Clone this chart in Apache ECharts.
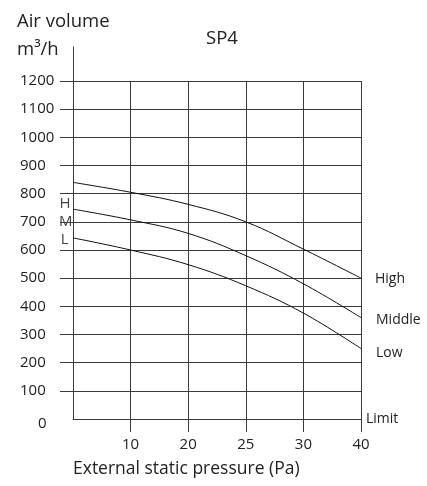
<!DOCTYPE html>
<html>
<head>
<meta charset="utf-8">
<script src="https://cdn.jsdelivr.net/npm/echarts@6/dist/echarts.min.js"></script>
<style>
  html, body { margin: 0; padding: 0; background: #fff; }
  #chart { width: 427px; height: 486px; }
</style>
</head>
<body>
<div id="chart"></div>
<script>
// pressure steps (Pa) - first one is the origin, no label drawn
var pressures = ['0', '10', '20', '25', '30', '40'];
var yTicks = [100, 200, 300, 400, 500, 600, 700, 800, 900, 1000, 1100, 1200];

// air volume m3/h
var highVals = [840, 805, 762, 700, 603, 500];
var middleVals = [745, 707, 659, 580, 480, 360];
var lowVals = [643, 600, 548, 473, 376, 250];

var font = '"Open Sans", "Noto Sans", sans-serif';
var ink = '#222';
var gridColor = '#3a3a3a';

function curve(name, short, vals, startOffset, endOffset) {
    var data = vals.map(function (v, i) {
        if (i === 0) {
            return {
                value: v,
                label: {
                    show: true, position: 'left', distance: 4,
                    formatter: short, offset: startOffset,
                    color: '#444', fontSize: 15, fontFamily: font
                }
            };
        }
        return v;
    });
    return {
        name: name,
        type: 'line',
        smooth: 0.4,
        symbol: 'circle',
        symbolSize: 1,
        showSymbol: true,
        itemStyle: { color: 'rgba(0,0,0,0)' },
        silent: true,
        lineStyle: { color: '#111', width: 1 },
        data: data,
        endLabel: {
            show: true,
            formatter: name,
            offset: endOffset,
            color: ink, fontSize: 14, fontFamily: font
        }
    };
}

var chart = echarts.init(document.getElementById('chart'), null, { renderer: 'canvas' });

var option = {
    backgroundColor: '#fff',
    animation: false,
    title: [
        {
            text: 'Air volume\nm³/h', left: 12, top: 3,
            textStyle: { fontFamily: font, fontWeight: 'normal', fontSize: 18.5, color: ink, lineHeight: 28 }
        },
        {
            text: 'SP4', left: 201, top: 24,
            textStyle: { fontFamily: font, fontWeight: 'normal', fontSize: 18.5, color: ink }
        },
        {
            text: 'External static pressure (Pa)', left: 68, top: 455,
            textStyle: { fontFamily: font, fontWeight: 'normal', fontSize: 17.5, color: ink }
        }
    ],
    grid: [
        { left: 73, right: 66, top: 81, bottom: 67 },
        // only used to draw the y axis line running up past 1200
        { left: 73, width: 10, top: 47, bottom: 67 }
    ],
    xAxis: [
        {
            type: 'category',
            gridIndex: 0,
            data: pressures,
            boundaryGap: false,
            name: 'Limit',
            nameLocation: 'end',
            nameGap: 5,
            nameTextStyle: { fontFamily: font, fontSize: 14, color: ink, padding: [0, 0, 8, 0] },
            axisLine: { show: true, lineStyle: { color: gridColor, width: 1 } },
            axisTick: {
                show: true, length: 13, alignWithLabel: true,
                interval: function (i) { return i > 0; },
                lineStyle: { color: gridColor }
            },
            axisLabel: {
                margin: 18, fontFamily: font, fontSize: 15, color: ink,
                interval: 0,
                formatter: function (v, i) { return i === 0 ? '' : v; }
            },
            splitLine: { show: true, lineStyle: { color: gridColor, width: 1 } }
        },
        { type: 'value', gridIndex: 1, show: false, min: 0, max: 1 }
    ],
    yAxis: [
        {
            type: 'value',
            gridIndex: 0,
            min: 0,
            max: 1200,
            interval: 100,
            axisLine: { show: true, lineStyle: { color: gridColor, width: 1 } },
            axisTick: {
                show: true, length: 13, customValues: yTicks,
                lineStyle: { color: gridColor }
            },
            axisLabel: {
                margin: 53, align: 'left', fontFamily: font, fontSize: 15, color: ink,
                formatter: function (v) { return v === 0 ? '{z|0}' : String(v); },
                rich: { z: { fontFamily: font, fontSize: 15, color: ink, padding: [10, 0, 0, 18] } }
            },
            splitLine: { show: true, lineStyle: { color: gridColor, width: 1 } }
        },
        {
            type: 'value',
            gridIndex: 1,
            min: 0,
            max: 1,
            axisLine: { show: true, lineStyle: { color: gridColor, width: 1 } },
            axisTick: { show: false },
            axisLabel: { show: false },
            splitLine: { show: false }
        }
    ],
    series: [
        curve('High', 'H', highVals, [2, 21], [6, 1]),
        curve('Middle', 'M', middleVals, [4, 13], [7, 2]),
        curve('Low', 'L', lowVals, [0, 2], [7, 4])
    ]
};

chart.setOption(option);
</script>
</body>
</html>
